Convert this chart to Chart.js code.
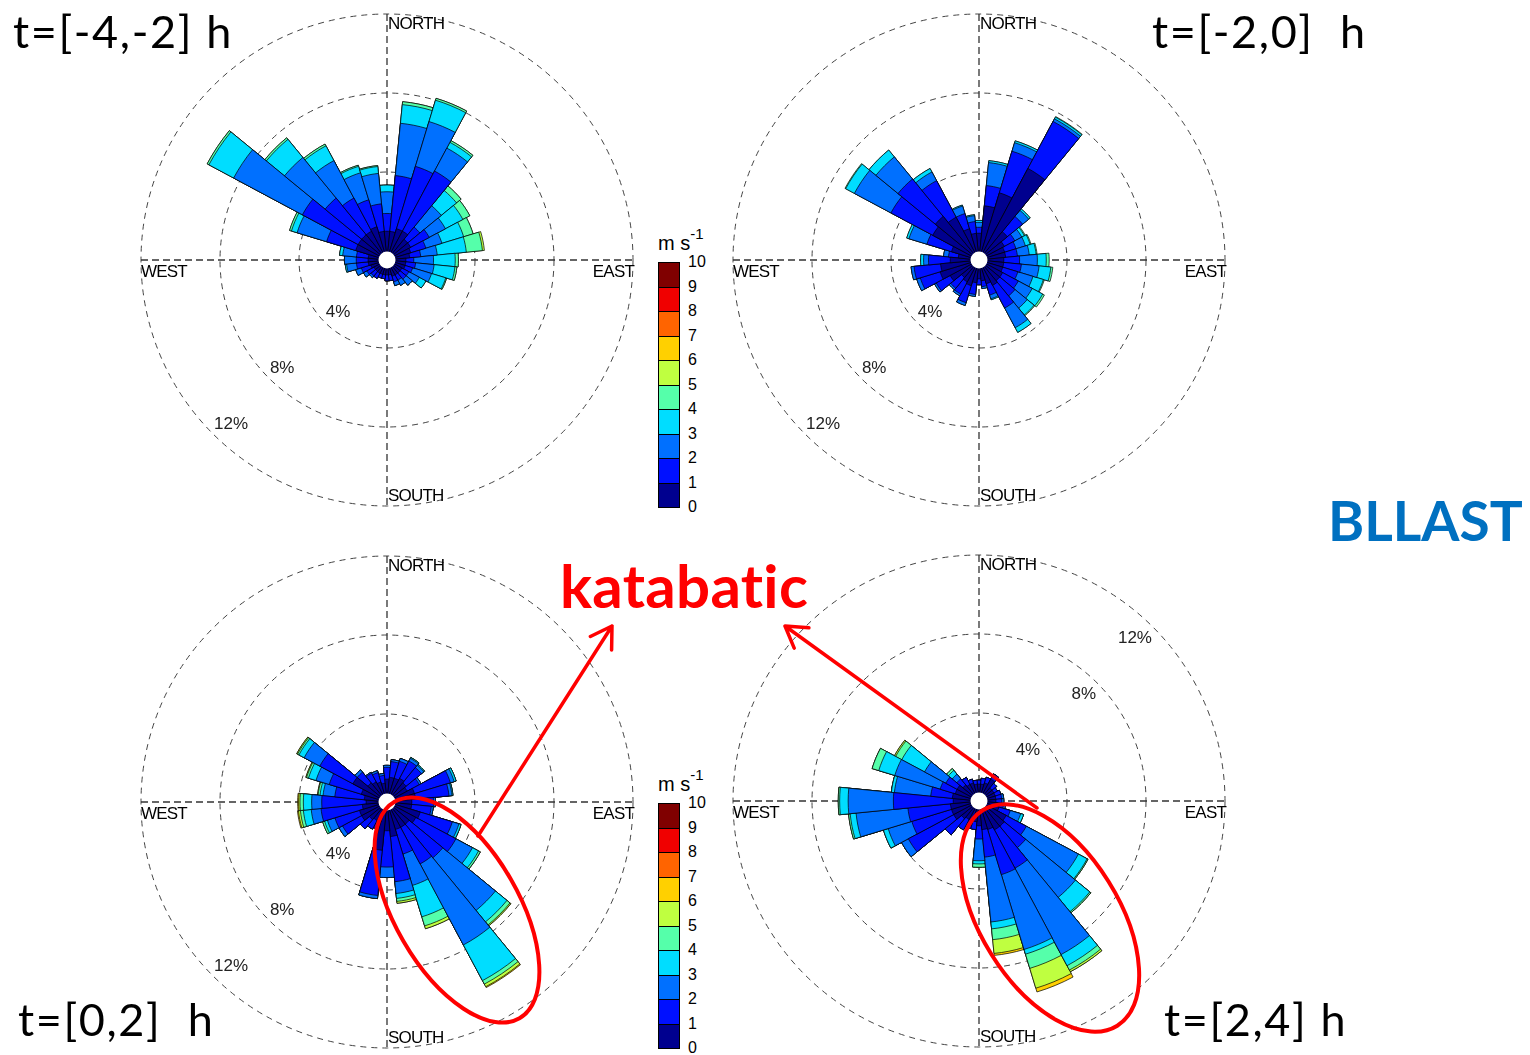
<!DOCTYPE html>
<html>
<head>
<meta charset="utf-8">
<title>BLLAST wind roses</title>
<script src="https://cdn.jsdelivr.net/npm/chart.js@4.4.1/dist/chart.umd.min.js"></script>
<style>
  html, body { margin: 0; padding: 0; background: #fff; }
  body { position: relative; width: 1530px; height: 1055px; overflow: hidden;
         font-family: "Liberation Sans", Arial, sans-serif; }
  canvas.rose { position: absolute; }
  .ttl { position: absolute; font-family: Lato, "Open Sans", sans-serif; font-size: 45px;
         letter-spacing: 1.6px; line-height: 1; color: #000; white-space: pre;
         font-variant-ligatures: none; }
  .note { position: absolute; font-family: Lato, "Open Sans", sans-serif; font-weight: 700;
          line-height: 1; white-space: pre; font-variant-ligatures: none; }
  .cb { position: absolute; }
  .cb .cell { position: absolute; left: 0; width: 22px; box-sizing: border-box;
              border: 1px solid #000; }
  .cb .tick { position: absolute; left: 30px; font-size: 16px; line-height: 16px; color: #000; }
  .cb .unit { position: absolute; left: 0; font-size: 20px; line-height: 20px; color: #000; white-space: pre; }
  .cb .unit sup { font-size: 15px; position: relative; top: -3px; }
  svg#marks { position: absolute; left: 0; top: 0; }
</style>
</head>
<body>

<canvas id="roseA" class="rose" width="540" height="540"></canvas>
<canvas id="roseB" class="rose" width="540" height="540"></canvas>
<canvas id="roseC" class="rose" width="540" height="540"></canvas>
<canvas id="roseD" class="rose" width="540" height="540"></canvas>

<div class="ttl" style="left:13px;top:9px">t=[-4,-2] h</div>
<div class="ttl" style="left:1152px;top:9px">t=[-2,0]  h</div>
<div class="ttl" style="left:18px;top:997px">t=[0,2]  h</div>
<div class="ttl" style="left:1164px;top:997px">t=[2,4] h</div>

<div class="note" style="left:560px;top:555px;font-size:60px;letter-spacing:0.3px;color:#ff0000">katabatic</div>
<div class="note" style="left:1328px;top:493px;font-size:55px;color:#0070c0">BLLAST</div>

<div id="cb1" class="cb" style="left:658px;top:262px"></div>
<div id="cb2" class="cb" style="left:658px;top:803px"></div>

<svg id="marks" width="1530" height="1055" xmlns="http://www.w3.org/2000/svg">
  <g fill="none" stroke="#ff0000" stroke-linecap="round" stroke-linejoin="round">
    <ellipse cx="457" cy="910" rx="62" ry="125" stroke-width="4" transform="rotate(-30 457 910)"/>
    <ellipse cx="1050" cy="918" rx="69" ry="127" stroke-width="4" transform="rotate(-32 1050 918)"/>
    <path id="arrow1" stroke-width="3.5"/>
    <path id="arrow2" stroke-width="3.5"/>
  </g>
</svg>

<script>
// ---- direction sectors (32 points, 11.25° each, clockwise from north) ----
const compass = ['N','NbE','NNE','NEbN','NE','NEbE','ENE','EbN','E','EbS','ESE','SEbE',
                 'SE','SEbS','SSE','SbE','S','SbW','SSW','SWbS','SW','SWbW','WSW','WbS',
                 'W','WbN','WNW','NWbW','NW','NWbN','NNW','NbW'];

// ---- wind speed classes (m s-1) and their colour scale ----
const speedClasses = ['0-1','1-2','2-3','3-4','4-5','5-6','6-7','7-8','8-9','9-10'];
const speedColors  = ['#00008f','#0010ff','#0070ff','#00ddff','#55ffaa',
                      '#bfff40','#ffd000','#ff6400','#f00000','#800000'];
const colorbarTicks = ['0','1','2','3','4','5','6','7','8','9','10'];

// ---- frequency rings (%) ----
const ringTicks  = [4, 8, 12];
const ringLabels = ['4%', '8%', '12%'];

// ---- t=[-4,-2] h : frequency (%) per sector, one array per speed class ----
const pA_0_1 = [1.0,1.0,1.2,1.2,0.9,0.9,0.8,0.7,0.5,0.5,0.5,0.4,0.4,0.4,0.4,0.3,0.3,0.3,0.3,0.3,0.3,0.3,0.4,0.5,0.5,0.5,1.2,1.2,1.2,1.2,1.3,1.0];
const pA_1_2 = [0.9,2.84,3.3,3.45,0.8,1.07,0.8,0.56,0.4,0.5,0.4,0.4,0.4,0.3,0.3,0.3,0.3,0.2,0.2,0.3,0.3,0.4,0.5,0.6,0.6,0.6,1.54,3.2,2.4,1.9,1.43,1.4];
const pA_2_3 = [1.1,2.66,2.37,1.32,1.4,0.93,0.85,0.84,1.0,0.94,1.0,0.6,0.4,0.3,0.2,0,0,0,0,0,0.1,0.2,0.3,0.5,0.6,0.7,1.56,3.95,2.66,2.15,1.43,1.55];
const pA_3_4 = [0.34,0.95,1.13,0.33,1.0,1.0,1.15,1.48,1.1,1.06,0.75,0.38,0,0,0,0,0,0,0,0,0,0,0,0.07,0,0.16,0.3,1.42,1.19,0.85,0.34,0.35];
const pA_4_5 = [0,0.15,0.1,0.1,0.3,0.4,0.5,0.82,0.16,0.1,0.05,0,0,0,0,0,0,0,0,0,0,0,0,0,0,0,0.1,0.1,0.1,0.1,0.06,0.05];
const pA_5_6 = [0,0,0,0,0,0,0,0.1,0,0,0,0,0,0,0,0,0,0,0,0,0,0,0,0,0,0,0,0,0,0,0,0];

// ---- t=[-2,0] h ----
const pB_0_1 = [0.9,2.3,3.1,4.8,1.4,1.0,0.9,0.9,0.8,0.8,0.8,0.9,0.9,1.0,0.8,0.6,0.5,0.7,0.9,0.8,0.7,1.2,1.6,1.5,1.0,0.6,1.0,2.2,2.4,2.0,1.2,0.9];
const pB_1_2 = [0.3,1.03,2.2,2.7,1.0,0.6,0.6,0.6,0.8,0.9,0.8,0.9,1.0,1.3,0.6,0.3,0.3,0.6,0.9,0.7,0.7,0.8,1.05,1.35,1.1,0.5,1.3,2.4,2.45,2.1,0.8,0.6];
const pB_2_3 = [0.25,1.17,0.45,0.15,0.4,0.4,0.5,0.6,0.9,0.9,0.8,0.8,0.8,1.13,0.2,0.1,0,0.1,0.15,0.1,0.1,0.1,0.19,0.15,0.25,0.25,0.95,2.1,1.45,0.5,0.4,0.3];
const pB_3_4 = [0.1,0.1,0.1,0.1,0.1,0.15,0.25,0.35,0.45,0.6,0.55,0.6,0.45,0.27,0.05,0,0,0,0,0,0,0,0,0,0.15,0,0.12,0.5,0.45,0.2,0.05,0.05];
const pB_4_5 = [0,0,0,0.03,0,0.05,0.05,0.05,0.15,0.1,0.05,0.1,0.05,0,0,0,0,0,0,0,0,0,0,0,0,0,0,0.04,0,0,0,0];

// ---- t=[0,2] h ----
const pC_0_1 = [0.7,0.8,0.8,0.9,0.8,0.7,1.0,1.0,0.8,0.8,1.3,1.2,1.0,1.0,1.0,1.3,1.0,2.0,0.6,0.6,0.7,1.0,1.0,0.8,0.6,0.7,0.9,1.5,0.8,0.7,0.6,0.5];
const pC_1_2 = [0.6,0.8,0.9,1.0,1.0,0.7,1.9,1.7,1.1,1.0,1.7,2.3,2.2,2.1,1.3,2.3,1.84,2.3,0.4,0.5,0.6,1.1,1.3,2.1,2.25,1.5,1.7,1.9,0.7,0.5,0.5,0.4];
const pC_2_3 = [0.1,0.1,0.15,0.15,0.15,0.1,0.2,0.15,0.1,0.1,0.35,0.95,3.45,4.65,1.66,0.6,0.53,0.16,0,0,0,0.2,0.4,0.5,0.51,0.6,0.7,0.9,0.15,0.05,0.1,0.1];
const pC_3_4 = [0,0,0,0.05,0.05,0,0.1,0.05,0,0,0.11,0.35,0.75,2.05,1.66,0.25,0,0,0,0,0,0,0.15,0.4,0.42,0.15,0.4,0.3,0,0,0,0];
const pC_4_5 = [0,0,0,0,0,0,0,0,0,0,0,0.1,0.2,0.2,0.48,0.15,0,0,0,0,0,0,0.1,0.15,0.17,0.1,0.1,0.08,0,0,0,0];
const pC_5_6 = [0,0,0,0,0,0,0,0,0,0,0,0,0.06,0.15,0.15,0.1,0,0,0,0,0,0,0,0.1,0.07,0.03,0.04,0.05,0,0,0,0];
const pC_6_7 = [0,0,0,0,0,0,0,0,0,0,0,0,0,0.05,0,0,0,0,0,0,0,0,0,0.05,0.05,0,0,0,0,0,0,0];

// ---- t=[2,4] h ----
const pD_0_1 = [0.4,0.4,0.5,0.8,0.4,0.4,0.4,0.4,0.4,0.5,0.6,1.1,1.2,1.2,1.05,1.0,0.8,0.6,0.6,0.6,0.7,1.0,1.0,1.0,0.85,0.9,0.8,0.8,0.6,0.5,0.5,0.4];
const pD_1_2 = [0.2,0.3,0.3,0.3,0.3,0.2,0.3,0.3,0.3,0.3,0.6,1.16,1.4,2.2,2.39,1.4,0.67,0.4,0.4,0.6,1.06,2.6,2.1,2.16,3.03,1.1,0.8,0.65,0.4,0.4,0.2,0.2];
const pD_2_3 = [0,0,0,0,0,0,0,0.1,0.1,0.1,0.55,2.99,3.26,4.96,3.96,3.3,1.1,0,0,0,0,0.39,1.25,2.64,2.29,1.85,2.4,1.22,0.3,0,0,0];
const pD_3_4 = [0,0,0,0,0,0,0,0,0,0,0.15,0.5,0.94,0.64,0.25,0.35,0.16,0,0,0,0,0,0.25,0.3,0.43,0.15,0.85,1.31,0.25,0,0,0];
const pD_4_5 = [0,0,0,0,0,0,0,0,0,0,0,0.05,0.07,0.25,0.75,0.55,0.17,0,0,0,0,0,0,0.08,0.07,0,0.35,0.35,0.12,0,0,0];
const pD_5_6 = [0,0,0,0,0,0,0,0,0,0,0,0,0,0.1,1.05,0.7,0,0,0,0,0,0,0,0,0,0,0,0.07,0,0,0,0];
const pD_6_7 = [0,0,0,0,0,0,0,0,0,0,0,0,0,0,0.2,0.1,0,0,0,0,0,0,0,0,0,0,0,0,0,0,0,0];

// ---- page layout of the four roses ----
const roses = [
  { canvas: 'roseA', classes: [pA_0_1, pA_1_2, pA_2_3, pA_3_4, pA_4_5, pA_5_6], cx: 387, cy: 260, ringSide: 'sw' },
  { canvas: 'roseB', classes: [pB_0_1, pB_1_2, pB_2_3, pB_3_4, pB_4_5],         cx: 979, cy: 260, ringSide: 'sw' },
  { canvas: 'roseC', classes: [pC_0_1, pC_1_2, pC_2_3, pC_3_4, pC_4_5, pC_5_6, pC_6_7], cx: 387, cy: 802, ringSide: 'sw' },
  { canvas: 'roseD', classes: [pD_0_1, pD_1_2, pD_2_3, pD_3_4, pD_4_5, pD_5_6, pD_6_7], cx: 979, cy: 801, ringSide: 'ne' }
];

// radial scale: 19.75 px per percent, calm hole of 9 px, canvas half-size 270 px
const CANVAS = 540;
const PX_PER_PCT = 19.75;
const HOLE_PX = 9;
const R_MIN = -HOLE_PX / PX_PER_PCT;
const R_MAX = R_MIN + (CANVAS / 2) / PX_PER_PCT;

// stacked rose: each speed class is drawn as the running total up to that class,
// dataset 0 (slowest) ends up on top of the faster ones
function stackedDatasets(classes) {
  const running = new Array(compass.length).fill(0);
  return classes.map((vals, i) => {
    const data = vals.map((v, k) => { running[k] += v; return +running[k].toFixed(3); });
    return {
      label: speedClasses[i] + ' m s-1',
      data,
      backgroundColor: speedColors[i],
      borderColor: '#000',
      borderWidth: 0.7
    };
  });
}

const roseDecor = {
  id: 'roseDecor',
  beforeDatasetsDraw(chart) {
    const s = chart.scales.r, ctx = chart.ctx;
    const cx = s.xCenter, cy = s.yCenter;
    const R = s.getDistanceFromCenterForValue(ringTicks[ringTicks.length - 1]);
    ctx.save();
    ctx.strokeStyle = '#333';
    ctx.lineWidth = 1.3;
    ctx.setLineDash([7, 4]);
    ctx.beginPath();
    ctx.moveTo(cx, cy - R); ctx.lineTo(cx, cy + R);
    ctx.moveTo(cx - R, cy); ctx.lineTo(cx + R, cy);
    ctx.stroke();
    ctx.restore();
  },
  afterDatasetsDraw(chart, args, opts) {
    const s = chart.scales.r, ctx = chart.ctx;
    const cx = s.xCenter, cy = s.yCenter;
    const R = s.getDistanceFromCenterForValue(ringTicks[ringTicks.length - 1]);
    ctx.save();
    // calm hole
    ctx.fillStyle = '#fff';
    ctx.beginPath();
    ctx.arc(cx, cy, s.getDistanceFromCenterForValue(0) - 0.5, 0, Math.PI * 2);
    ctx.fill();

    // ring labels, set on a white patch at 45° off the axes
    ctx.font = '17px "Liberation Sans", Arial, sans-serif';
    ringTicks.forEach((v, i) => {
      const r = s.getDistanceFromCenterForValue(v) * Math.SQRT1_2;
      const txt = ringLabels[i];
      const w = ctx.measureText(txt).width;
      let x, top;
      if (opts.ringSide === 'ne') { x = cx + r - 1 - w; top = cy - r + 3; }
      else { x = cx - r + 1; top = cy + r - 18; }
      ctx.fillStyle = '#fff';
      ctx.fillRect(x - 1, top - 1, w + 3, 16);
      ctx.fillStyle = '#222';
      ctx.textBaseline = 'top';
      ctx.textAlign = 'left';
      ctx.fillText(txt, x, top);
    });

    // compass labels
    ctx.fillStyle = '#000';
    ctx.font = '17px "Liberation Sans", Arial, sans-serif';
    if ('letterSpacing' in ctx) ctx.letterSpacing = '-0.8px';
    ctx.textBaseline = 'top';
    ctx.textAlign = 'left';
    ctx.fillText('NORTH', cx + 1, cy - R + 2);
    ctx.fillText('SOUTH', cx + 1, cy + R - 18);
    ctx.fillText('WEST', cx - R, cy + 4);
    ctx.textAlign = 'right';
    ctx.fillText('EAST', cx + R + 1, cy + 4);
    ctx.restore();
  }
};

roses.forEach(rose => {
  const el = document.getElementById(rose.canvas);
  el.style.left = (rose.cx - CANVAS / 2) + 'px';
  el.style.top = (rose.cy - CANVAS / 2) + 'px';
  new Chart(el, {
    type: 'polarArea',
    data: { labels: compass, datasets: stackedDatasets(rose.classes) },
    options: {
      responsive: false,
      animation: false,
      events: [],
      layout: { padding: 0 },
      plugins: {
        legend: { display: false },
        tooltip: { enabled: false },
        roseDecor: { ringSide: rose.ringSide }
      },
      scales: {
        r: {
          min: R_MIN,
          max: R_MAX,
          startAngle: -180 / compass.length,
          afterBuildTicks: axis => { axis.ticks = ringTicks.map(v => ({ value: v })); },
          ticks: { display: false },
          grid: { circular: true, color: '#444', lineWidth: 1 },
          border: { dash: [6, 5] },
          angleLines: { display: false },
          pointLabels: { display: false }
        }
      }
    },
    plugins: [roseDecor]
  });
});

// ---- colour bars ----
function buildColorbar(id) {
  const host = document.getElementById(id);
  const cellH = 24.5;
  const n = speedColors.length;
  const unit = document.createElement('div');
  unit.className = 'unit';
  unit.style.top = '-35px';
  unit.innerHTML = 'm s<sup>-1</sup>';
  host.appendChild(unit);
  for (let i = 0; i < n; i++) {
    const c = document.createElement('div');
    c.className = 'cell';
    c.style.top = ((n - 1 - i) * cellH) + 'px';
    c.style.height = (cellH + 1) + 'px';
    c.style.background = speedColors[i];
    host.appendChild(c);
  }
  colorbarTicks.forEach((t, i) => {
    const d = document.createElement('div');
    d.className = 'tick';
    d.textContent = t;
    d.style.top = ((n - i) * cellH - 8) + 'px';
    host.appendChild(d);
  });
}
buildColorbar('cb1');
buildColorbar('cb2');

// ---- annotation arrows ----
function arrowPath(x1, y1, x2, y2, len, spread) {
  const a = Math.atan2(y1 - y2, x1 - x2);
  const p = ang => [x2 + len * Math.cos(ang), y2 + len * Math.sin(ang)];
  const [lx, ly] = p(a - spread), [rx, ry] = p(a + spread);
  return `M${x1},${y1} L${x2},${y2} M${lx.toFixed(1)},${ly.toFixed(1)} L${x2},${y2} L${rx.toFixed(1)},${ry.toFixed(1)}`;
}
document.getElementById('arrow1').setAttribute('d', arrowPath(478, 836, 612, 626, 24, 0.55));
document.getElementById('arrow2').setAttribute('d', arrowPath(1037, 808, 785, 626, 24, 0.55));
</script>
</body>
</html>
